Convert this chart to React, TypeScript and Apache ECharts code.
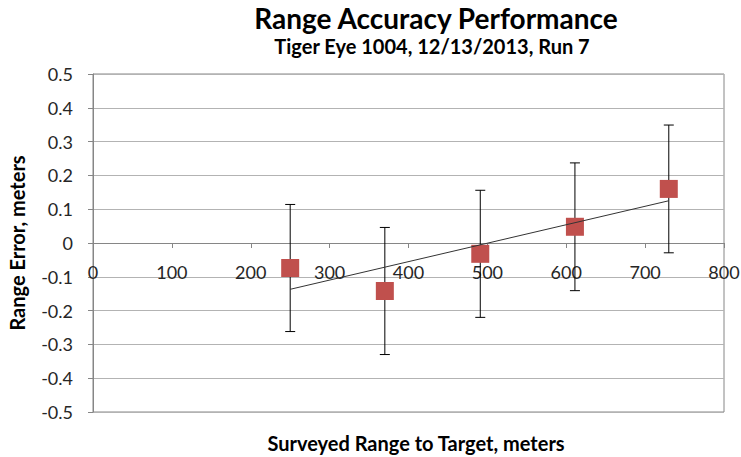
import React, { useEffect, useRef } from "react";
import * as echarts from "echarts";

const rangeX = [250, 370, 491, 611, 730];
const rangeError = [-0.074, -0.142, -0.032, 0.048, 0.16];
const errorHalf = [0.188, 0.188, 0.188, 0.189, 0.189];
const trendX = [250, 730];
const trendY = [-0.137, 0.125];
const xTicks = { min: 0, max: 800, interval: 100 };
const yTicks = { min: -0.5, max: 0.5, interval: 0.1 };

const FONT = "Lato, 'Open Sans', sans-serif";
const GRID = { left: 93, right: 17, top: 74, bottom: 45 };

export default function App() {
  const ref = useRef<HTMLDivElement>(null);
  useEffect(() => {
    if (!ref.current) return;
    const chart = echarts.init(ref.current, undefined, { renderer: "svg" });
    const points = rangeX.map((x, i) => [x, rangeError[i]]);
    const errData = rangeX.map((x, i) => [x, rangeError[i] - errorHalf[i], rangeError[i] + errorHalf[i]]);
    const trend = trendX.map((x, i) => [x, trendY[i]]);
    const plotH = 457 - GRID.top - GRID.bottom;
    const zeroOffset = -plotH * (0 - yTicks.min) / (yTicks.max - yTicks.min);
    chart.setOption({
      animation: false,
      backgroundColor: "#fff",
      textStyle: { fontFamily: FONT },
      title: [
        {
          text: "Range Accuracy Performance",
          left: 431,
          textAlign: "center",
          top: -1,
          textStyle: { fontFamily: FONT, fontSize: 28, fontWeight: "bold", color: "#000" },
        },
        {
          text: "Tiger Eye 1004, 12/13/2013, Run 7",
          left: 427,
          textAlign: "center",
          top: 31,
          textStyle: { fontFamily: FONT, fontSize: 20, fontWeight: "bold", color: "#000" },
        },
      ],
      graphic: [
        {
          type: "text",
          x: 416,
          y: 443,
          style: {
            text: "Surveyed Range to Target, meters",
            fontFamily: FONT,
            fontSize: 20,
            fontWeight: "bold",
            fill: "#000",
            textAlign: "center",
            textVerticalAlign: "middle",
          },
        },
      ],
      grid: {
        ...GRID,
        outerBoundsMode: "none",
        containLabel: false,
        show: true,
        borderColor: "#868686",
        borderWidth: 1,
      },
      xAxis: {
        type: "value",
        min: xTicks.min,
        max: xTicks.max,
        interval: xTicks.interval,
        position: "bottom",
        offset: zeroOffset,
        axisLine: { onZero: false, lineStyle: { color: "#868686", width: 1 } },
        axisTick: { show: true, length: 5, lineStyle: { color: "#868686" } },
        axisLabel: { margin: 20, fontSize: 18, color: "#262626", fontFamily: FONT, showMinLabel: true, showMaxLabel: true },
        splitLine: { show: false },
      },
      yAxis: {
        type: "value",
        min: yTicks.min,
        max: yTicks.max,
        interval: yTicks.interval,
        name: "Range Error, meters",
        nameLocation: "middle",
        nameGap: 66,
        nameTextStyle: { fontFamily: FONT, fontSize: 20, fontWeight: "bold", color: "#000" },
        axisLine: { show: true, onZero: false, lineStyle: { color: "#868686", width: 1 } },
        axisTick: { show: true, length: 5, lineStyle: { color: "#868686" } },
        axisLabel: { margin: 20, fontSize: 18, color: "#262626", fontFamily: FONT },
        splitLine: { show: true, lineStyle: { color: "#b3b3b3", width: 1 } },
      },
      series: [
        {
          type: "custom",
          data: errData,
          z: 2,
          renderItem: (params: any, api: any) => {
            const x = api.value(0);
            const lo = api.coord([x, api.value(1)]);
            const hi = api.coord([x, api.value(2)]);
            const cap = 5;
            const style = { stroke: "#000", lineWidth: 1 };
            return {
              type: "group",
              children: [
                { type: "line", shape: { x1: lo[0], y1: lo[1], x2: hi[0], y2: hi[1] }, style },
                { type: "line", shape: { x1: lo[0] - cap, y1: lo[1], x2: lo[0] + cap, y2: lo[1] }, style },
                { type: "line", shape: { x1: hi[0] - cap, y1: hi[1], x2: hi[0] + cap, y2: hi[1] }, style },
              ],
            };
          },
        },
        {
          type: "scatter",
          data: points,
          symbol: "rect",
          symbolSize: 18,
          itemStyle: { color: "#C0504D", opacity: 1 },
          z: 3,
        },
        {
          type: "line",
          data: trend,
          symbol: "none",
          lineStyle: { color: "#333", width: 1 },
          z: 4,
        },
      ],
    });
    return () => chart.dispose();
  }, []);
  return (
    <div
      ref={ref}
      style={{ position: "fixed", left: 0, top: 0, width: 741, height: 457 }}
    />
  );
}
